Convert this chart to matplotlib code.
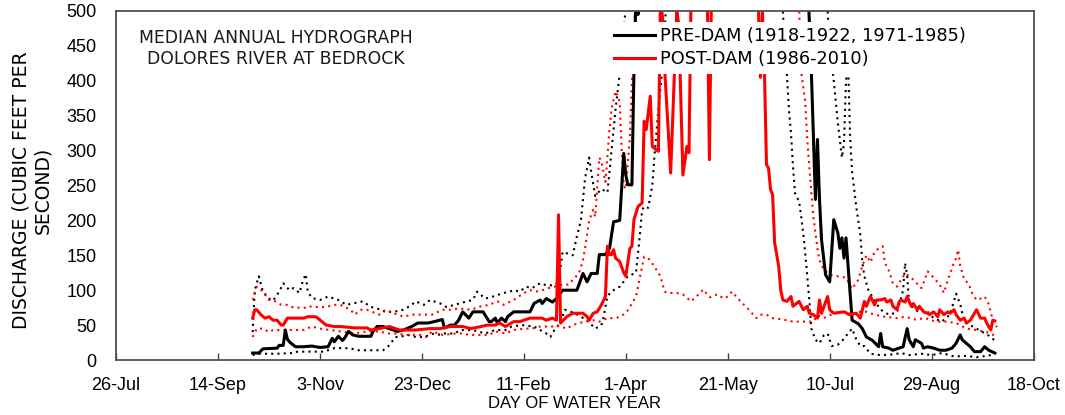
import datetime as dt
import matplotlib
matplotlib.use("Agg")
import matplotlib.pyplot as plt

pre_med_day = [0, 3, 5, 12, 13, 15, 16, 17, 18, 21, 25, 29, 33, 37, 39, 40, 42, 44, 45, 47, 49, 52, 58, 59, 61, 64, 66, 69, 71, 74, 78, 81, 86, 89, 93, 94, 97, 99, 101, 103, 106, 108, 113, 116, 117, 119, 120, 122, 124, 125, 128, 136, 138, 141, 142, 144, 147, 149, 152, 159, 160, 162, 164, 166, 169, 170, 173, 175, 177, 180, 182, 183, 184, 186, 187, 188, 189, 190, 192, 200, 210, 220, 230, 240, 250, 260, 268, 272, 274, 276, 277, 278, 279, 281, 283, 285, 287, 288, 289, 290, 291, 293, 294, 297, 299, 301, 304, 307, 308, 309, 312, 314, 317, 319, 321, 322, 324, 325, 328, 329, 331, 334, 337, 340, 343, 345, 347, 348, 350, 352, 354, 357, 359, 361, 364]
pre_med = [10, 10, 16, 17, 21, 21, 43, 30, 26, 19, 19, 20, 18, 19, 31, 26, 34, 28, 31, 41, 36, 34, 34, 41, 48, 48, 46, 43, 41, 43, 48, 53, 53, 55, 58, 46, 50, 50, 57, 69, 60, 69, 69, 55, 55, 60, 53, 60, 55, 62, 69, 69, 81, 86, 81, 88, 83, 88, 100, 100, 108, 124, 112, 124, 124, 151, 151, 160, 198, 200, 296, 265, 251, 251, 416, 520, 495, 540, 700, 1000, 1300, 1600, 1800, 1800, 1500, 1100, 750, 560, 413, 230, 316, 230, 172, 122, 112, 201, 182, 160, 175, 146, 175, 96, 57, 52, 45, 33, 28, 19, 38, 19, 17, 14, 17, 19, 45, 29, 19, 29, 24, 17, 19, 17, 14, 14, 17, 24, 36, 29, 24, 19, 12, 12, 19, 14, 10]

post_med_day = [0, 1, 2, 4, 6, 8, 10, 12, 14, 15, 17, 22, 25, 27, 31, 34, 36, 40, 43, 50, 56, 58, 62, 67, 72, 80, 87, 92, 97, 103, 107, 112, 115, 119, 121, 124, 128, 131, 133, 136, 142, 144, 147, 149, 150, 151, 154, 157, 162, 164, 165, 167, 169, 171, 173, 174, 175, 176, 177, 178, 180, 182, 183, 185, 186, 187, 189, 191, 192, 193, 195, 196, 198, 199, 200, 201, 202, 205, 208, 209, 211, 213, 214, 215, 216, 220, 223, 224, 225, 226, 235, 245, 248, 249, 250, 251, 252, 253, 254, 255, 256, 258, 259, 260, 262, 264, 265, 268, 270, 272, 273, 275, 277, 278, 279, 282, 283, 285, 290, 293, 296, 298, 300, 301, 303, 305, 306, 308, 310, 311, 313, 314, 316, 317, 318, 320, 321, 323, 324, 326, 327, 329, 331, 332, 334, 336, 337, 339, 341, 342, 344, 345, 347, 349, 350, 352, 354, 355, 357, 359, 360, 362, 363, 364]
post_med = [60, 72, 72, 65, 60, 62, 57, 57, 50, 50, 60, 60, 60, 62, 62, 55, 50, 48, 48, 46, 46, 43, 45, 48, 43, 43, 45, 45, 48, 48, 45, 48, 50, 50, 53, 48, 55, 55, 57, 60, 60, 57, 60, 57, 208, 53, 62, 67, 67, 62, 57, 67, 69, 79, 91, 163, 151, 151, 158, 146, 141, 125, 120, 160, 163, 201, 220, 225, 342, 330, 378, 306, 301, 299, 520, 490, 420, 268, 500, 480, 265, 306, 297, 520, 600, 750, 520, 287, 520, 700, 850, 700, 510, 405, 500, 413, 280, 275, 244, 237, 168, 134, 100, 86, 84, 91, 77, 84, 72, 77, 67, 65, 60, 86, 67, 91, 72, 67, 69, 65, 67, 60, 84, 77, 91, 79, 86, 86, 88, 83, 86, 77, 72, 83, 86, 83, 91, 77, 81, 72, 77, 69, 67, 65, 69, 62, 72, 65, 69, 67, 72, 65, 57, 60, 53, 57, 67, 72, 60, 60, 53, 43, 57, 56]

pre_hi_day = [0, 1, 3, 5, 8, 10, 13, 15, 18, 20, 23, 24, 26, 27, 29, 33, 37, 42, 46, 49, 54, 58, 61, 65, 69, 74, 78, 80, 84, 87, 92, 95, 99, 105, 108, 110, 114, 118, 123, 126, 128, 131, 134, 137, 141, 144, 148, 150, 152, 157, 159, 161, 163, 165, 166, 168, 171, 174, 176, 178, 180, 182, 184, 190, 200, 220, 240, 260, 275, 282, 283, 285, 287, 289, 290, 291, 292, 293, 294, 296, 297, 298, 299, 300, 302, 305, 308, 312, 316, 319, 320, 321, 322, 326, 330, 334, 338, 342, 345, 347, 349, 352, 355, 358, 361, 364]
pre_hi = [40, 100, 120, 98, 88, 85, 98, 110, 100, 103, 96, 108, 123, 98, 89, 86, 91, 86, 79, 81, 84, 76, 74, 69, 69, 72, 79, 84, 79, 86, 81, 76, 79, 84, 86, 98, 88, 91, 96, 98, 100, 98, 105, 103, 110, 107, 107, 112, 155, 150, 177, 200, 260, 290, 270, 235, 245, 240, 300, 360, 410, 470, 550, 800, 1200, 1800, 2000, 1700, 900, 500, 450, 400, 340, 290, 310, 400, 430, 320, 270, 220, 200, 180, 140, 120, 100, 85, 72, 65, 68, 100, 139, 120, 80, 70, 72, 60, 55, 65, 95, 80, 55, 50, 45, 40, 35, 28]

pre_lo_day = [0, 2, 12, 20, 22, 35, 40, 47, 52, 64, 67, 70, 72, 76, 80, 84, 89, 92, 94, 99, 102, 108, 114, 119, 124, 127, 132, 138, 141, 144, 146, 148, 151, 153, 155, 158, 161, 164, 168, 171, 172, 174, 177, 180, 184, 188, 190, 191, 192, 194, 196, 197, 198, 199, 201, 203, 210, 230, 250, 258, 260, 262, 263, 264, 265, 266, 268, 269, 270, 271, 272, 273, 274, 276, 278, 280, 282, 284, 287, 289, 292, 294, 296, 298, 300, 303, 308, 314, 318, 322, 328, 333, 338, 344, 350, 355, 360, 364]
pre_lo = [7, 9, 9, 10, 12, 12, 17, 17, 14, 14, 21, 33, 33, 36, 33, 33, 38, 36, 38, 38, 43, 43, 38, 43, 43, 48, 50, 48, 43, 38, 33, 43, 53, 72, 70, 67, 62, 57, 45, 50, 60, 92, 100, 105, 120, 125, 182, 215, 220, 218, 250, 290, 325, 360, 420, 520, 900, 1300, 900, 620, 500, 409, 359, 325, 277, 239, 227, 206, 182, 153, 120, 86, 45, 29, 24, 35, 38, 20, 22, 27, 38, 45, 30, 20, 20, 9, 7, 8, 10, 7, 9, 7, 10, 5, 6, 4, 6, 8]

post_hi_day = [0, 2, 5, 8, 10, 14, 17, 20, 26, 27, 31, 36, 40, 43, 48, 50, 53, 56, 62, 65, 71, 74, 78, 84, 88, 93, 97, 101, 107, 112, 116, 120, 123, 128, 133, 136, 140, 145, 148, 152, 155, 157, 160, 162, 163, 165, 167, 168, 170, 171, 173, 175, 176, 178, 180, 181, 182, 183, 185, 186, 187, 188, 195, 210, 230, 250, 262, 267, 269, 271, 272, 273, 274, 275, 276, 277, 278, 280, 283, 287, 291, 294, 297, 299, 301, 303, 305, 307, 309, 310, 312, 314, 316, 318, 320, 323, 325, 328, 330, 331, 334, 337, 339, 341, 344, 345, 346, 347, 349, 351, 353, 355, 357, 359, 361, 363, 365]
post_hi = [86, 105, 98, 86, 86, 79, 79, 75, 75, 77, 76, 76, 79, 79, 72, 65, 72, 72, 65, 72, 65, 62, 65, 65, 65, 72, 72, 74, 72, 77, 79, 84, 79, 86, 96, 100, 98, 103, 105, 108, 108, 115, 124, 143, 160, 200, 215, 205, 290, 285, 255, 330, 360, 385, 370, 300, 250, 245, 320, 400, 470, 540, 900, 1500, 1900, 1600, 900, 600, 413, 370, 316, 277, 240, 205, 182, 160, 143, 130, 122, 120, 118, 102, 115, 135, 150, 140, 155, 160, 163, 140, 128, 110, 105, 115, 124, 118, 112, 103, 118, 127, 118, 108, 96, 115, 140, 146, 158, 135, 115, 110, 95, 86, 88, 91, 80, 57, 47]

post_lo_day = [0, 2, 5, 8, 10, 20, 25, 29, 33, 38, 43, 50, 56, 62, 66, 70, 75, 82, 85, 88, 93, 100, 103, 106, 116, 119, 124, 128, 133, 137, 141, 147, 149, 154, 157, 160, 167, 170, 174, 178, 180, 183, 185, 188, 190, 192, 194, 197, 200, 202, 204, 208, 211, 215, 218, 221, 224, 228, 231, 233, 235, 238, 241, 244, 247, 249, 252, 255, 260, 265, 270, 275, 277, 280, 283, 288, 292, 296, 300, 305, 310, 316, 320, 325, 330, 335, 340, 345, 350, 355, 360, 364]
post_lo = [33, 45, 45, 40, 43, 43, 43, 48, 45, 43, 41, 38, 41, 41, 38, 38, 36, 36, 33, 41, 36, 38, 38, 36, 36, 41, 38, 43, 45, 45, 48, 48, 50, 45, 50, 53, 57, 55, 60, 60, 62, 67, 76, 91, 120, 148, 146, 134, 120, 98, 96, 96, 94, 84, 92, 101, 90, 94, 88, 91, 98, 88, 79, 70, 60, 65, 65, 60, 58, 55, 55, 55, 64, 60, 64, 70, 65, 68, 70, 65, 62, 60, 62, 58, 60, 55, 55, 53, 45, 43, 40, 35]

tick_start = dt.date(1999, 7, 26)
tick_step = 50
n_ticks = 10
wy_start = dt.date(1999, 10, 1)

plt.rcParams["font.family"] = ["DejaVu Sans"]
tickfont = "Liberation Sans"


def to_dates(days):
    return [wy_start + dt.timedelta(days=d) for d in days]


fig = plt.figure(figsize=(10.65, 4.15), dpi=100)
ax = fig.add_axes([0.109, 0.1325, 0.8615, 0.841])

dot = (0, (1, 2))
ax.plot(to_dates(pre_hi_day), pre_hi, color="black", lw=1.5, ls=dot)
ax.plot(to_dates(pre_lo_day), pre_lo, color="black", lw=1.5, ls=dot)
ax.plot(to_dates(post_hi_day), post_hi, color="red", lw=1.5, ls=dot)
ax.plot(to_dates(post_lo_day), post_lo, color="red", lw=1.5, ls=dot)
ax.plot(to_dates(pre_med_day), pre_med, color="black", lw=2.2,
        label="PRE-DAM (1918-1922, 1971-1985)")
ax.plot(to_dates(post_med_day), post_med, color="red", lw=2.2,
        label="POST-DAM (1986-2010)")

ticks = [tick_start + dt.timedelta(days=tick_step * i) for i in range(n_ticks)]
ax.set_xlim(ticks[0], ticks[-1])
ax.set_xticks(ticks)
ax.set_xticklabels([f"{t.day}-{t.strftime('%b')}" for t in ticks],
                   family=tickfont, fontsize=13)
ax.set_ylim(0, 500)
ax.set_yticks(range(0, 501, 50))
ax.set_yticklabels([str(v) for v in range(0, 501, 50)], family=tickfont, fontsize=13)
ax.tick_params(axis="x", direction="in", length=5, width=1, color="#404040", pad=12)
ax.tick_params(axis="y", length=0, pad=14)
for s in ax.spines.values():
    s.set_color("#505050")
    s.set_linewidth(1.3)

ax.set_xlabel("DAY OF WATER YEAR", family=tickfont, fontsize=12, labelpad=2)
fig.text(0.030, 0.542, "DISCHARGE (CUBIC FEET PER\nSECOND)", rotation=90,
         ha="center", va="center", multialignment="center", fontsize=13.5,
         linespacing=1.15)

ax.text(0.1745, 0.893, "MEDIAN ANNUAL HYDROGRAPH\nDOLORES RIVER AT BEDROCK",
        transform=ax.transAxes, ha="center", va="center", fontsize=12.4,
        linespacing=1.2, color="#1a1a1a")

leg = ax.legend(loc="upper left", bbox_to_anchor=(0.537, 0.968), fontsize=12.8,
                frameon=True, fancybox=False, edgecolor="none", facecolor="white",
                framealpha=1, handlelength=2.3, handletextpad=0.3,
                labelspacing=0.28, borderpad=0.3, borderaxespad=0)

fig.savefig("out.png", dpi=100)
